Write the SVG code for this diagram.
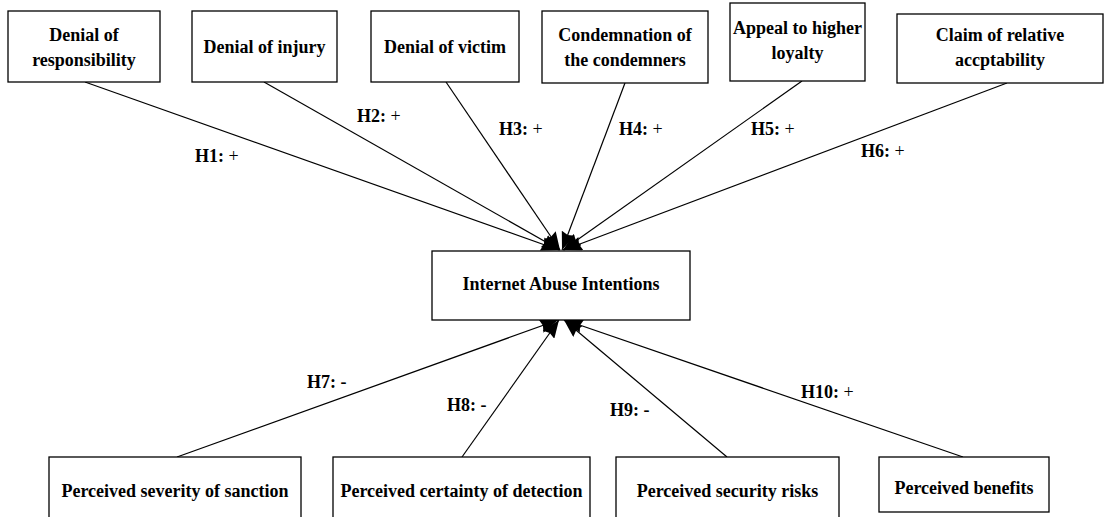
<svg xmlns="http://www.w3.org/2000/svg" width="1105" height="517" viewBox="0 0 1105 517">
<style>
.box{fill:#fff;stroke:#000;stroke-width:1.3}
.t{font-family:"Liberation Serif","Times New Roman",serif;font-weight:bold;font-size:18px;fill:#000;text-anchor:middle}
.lb{font-family:"Liberation Serif","Times New Roman",serif;font-weight:bold;font-size:18px;fill:#000}
.pl{font-weight:normal}
.c{stroke:#000;stroke-width:1.2;fill:none;marker-end:url(#ah)}
</style>
<defs>
<marker id="ah" markerUnits="userSpaceOnUse" markerWidth="19" markerHeight="14" refX="18" refY="7" orient="auto">
<path d="M0,0 L18,7 L0,14 L2,7 z" fill="#000"/>
</marker>
</defs>
<g id="connectors">
<line class="c" x1="85" y1="82" x2="559" y2="250"/>
<line class="c" x1="264" y1="82" x2="560" y2="250"/>
<line class="c" x1="446" y1="82" x2="560" y2="250"/>
<line class="c" x1="625" y1="83" x2="562" y2="250"/>
<line class="c" x1="802" y1="81" x2="563" y2="250"/>
<line class="c" x1="1007" y1="83" x2="564" y2="250"/>
<line class="c" x1="177" y1="457" x2="558" y2="320"/>
<line class="c" x1="462" y1="457" x2="559" y2="320"/>
<line class="c" x1="727" y1="457" x2="564" y2="320"/>
<line class="c" x1="963" y1="457" x2="565" y2="320"/>
</g>
<g id="labels">
<text class="lb" x="195" y="162">H1: <tspan class="pl">+</tspan></text>
<text class="lb" x="357" y="122">H2: <tspan class="pl">+</tspan></text>
<text class="lb" x="499" y="135">H3: <tspan class="pl">+</tspan></text>
<text class="lb" x="619" y="135">H4: <tspan class="pl">+</tspan></text>
<text class="lb" x="751" y="135">H5: <tspan class="pl">+</tspan></text>
<text class="lb" x="861" y="157">H6: <tspan class="pl">+</tspan></text>
<text class="lb" x="307" y="388">H7: -</text>
<text class="lb" x="447" y="411">H8: -</text>
<text class="lb" x="610" y="416">H9: -</text>
<text class="lb" x="801" y="398">H10: <tspan class="pl">+</tspan></text>
</g>
<g id="n1"><rect class="box" x="8" y="11" width="152" height="71"/><text class="t" x="84" y="41">Denial of</text><text class="t" x="84" y="66">responsibility</text></g>
<g id="n2"><rect class="box" x="192" y="11" width="145" height="71"/><text class="t" x="264.5" y="53">Denial of injury</text></g>
<g id="n3"><rect class="box" x="371" y="11" width="148" height="71"/><text class="t" x="445" y="53">Denial of victim</text></g>
<g id="n4"><rect class="box" x="542" y="11" width="166" height="72"/><text class="t" x="625" y="41">Condemnation of</text><text class="t" x="625" y="66">the condemners</text></g>
<g id="n5"><rect class="box" x="730" y="3" width="135" height="78"/><text class="t" x="797.5" y="34">Appeal to higher</text><text class="t" x="797.5" y="59">loyalty</text></g>
<g id="n6"><rect class="box" x="897" y="14" width="206" height="69"/><text class="t" x="1000" y="41">Claim of relative</text><text class="t" x="1000" y="66">accptability</text></g>
<g id="n7"><rect class="box" x="432" y="251" width="258" height="69"/><text class="t" x="561" y="290">Internet Abuse Intentions</text></g>
<g id="n8"><rect class="box" x="49" y="457" width="252" height="80"/><text class="t" x="175" y="497">Perceived severity of sanction</text></g>
<g id="n9"><rect class="box" x="333" y="457" width="257" height="80"/><text class="t" x="461.5" y="497">Perceived certainty of detection</text></g>
<g id="n10"><rect class="box" x="616" y="457" width="223" height="80"/><text class="t" x="727.5" y="497">Perceived security risks</text></g>
<g id="n11"><rect class="box" x="879" y="457" width="170" height="55"/><text class="t" x="964" y="494">Perceived benefits</text></g>
</svg>
